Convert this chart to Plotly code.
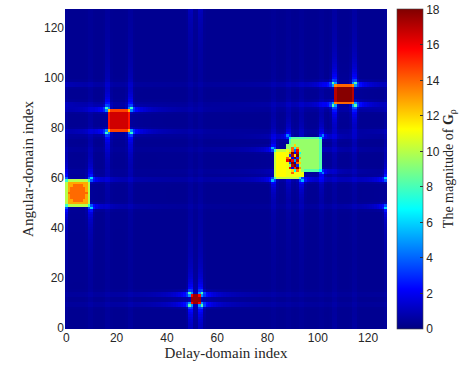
import numpy as np
import plotly.graph_objects as go

N = 128
delay_idx = list(range(N))
angle_idx = list(range(N))

# Blocks: delay range, angular range, magnitude
block_x1 = [0, 17, 107, 83, 89, 50]
block_x2 = [9, 25, 114, 93, 101, 53]
block_y1 = [49, 79, 90, 60, 63, 10]
block_y2 = [59, 87, 97, 71, 76, 13]
block_amp = [12.8, 16.6, 17.9, 11.3, 9.4, 17.6]
block_side_ratio = [0.78, 0.93, 0.95, 0.9, 0.88, 1.0]
block_top_ratio = [0.78, 0.88, 0.78, 0.9, 0.88, 1.0]
block_corner_ratio = [0.6, 0.75, 0.75, 0.7, 0.7, 0.9]

# inner disk of the first block
disk_center = [4.5, 54.0]
disk_radius = 3.6
disk_amp = 13.9

# overlap of blocks 4a/4b (x 88..94, rows y=73 down to y=61)
overlap_x0 = 88
overlap_ytop = 73
overlap_vals = [
    [9.4, 9.4, 9.4, 12, 9.4, 9.4, 9.4],
    [9.4, 9.4, 14, 7, 13, 9.4, 9.4],
    [11, 10, 14, 4, 16, 10, 9.4],
    [11, 13, 18, 2, 17, 7, 9.4],
    [11, 3, 17, 12, 19, 9, 9.4],
    [14, 12, 2, 18, 3, 13, 9.4],
    [16, 18, 16, 5, 17, 10, 9.4],
    [11, 4, 19, 1, 14, 12, 9.4],
    [11, 9, 17, 18, 3, 10, 9.4],
    [11, 16, 2, 15, 18, 13, 9.4],
    [11, 11, 12, 7, 14, 11, 9.4],
    [11, 11, 14, 11, 11, 11, 11],
    [11, 11, 11, 11, 11, 11, 11],
]

background_level = 0.3
streak_gain = 0.38
streak_len = 2.0
streak_power = 1.05
fill_gain = 0.015

cb_ticks = [0, 2, 4, 6, 8, 10, 12, 14, 16, 18]
axis_ticks = [0, 20, 40, 60, 80, 100, 120]

# ---------------- build the magnitude map ----------------
idx = np.arange(N)


def circ(a):
    a = np.abs(a) % N
    return np.minimum(a, N - a)


def dist_to_interval(v, lo, hi):
    inside = (v >= lo) & (v <= hi)
    d = np.minimum(circ(v - lo), circ(v - hi))
    return np.where(inside, 0.0, d)


G = np.full((N, N), background_level)  # rows = angular (y), cols = delay (x)
for x1, x2, y1, y2, A in zip(block_x1, block_x2, block_y1, block_y2, block_amp):
    dx = dist_to_interval(idx.astype(float), x1, x2)
    dy = dist_to_interval(idx.astype(float), y1, y2)
    ex = np.maximum(np.exp(-circ(idx - (x1 - 0.5)) ** 2 / (2 * 0.7 ** 2)),
                    np.exp(-circ(idx - (x2 + 0.5)) ** 2 / (2 * 0.7 ** 2)))
    ey = np.maximum(np.exp(-circ(idx - (y1 - 0.5)) ** 2 / (2 * 0.7 ** 2)),
                    np.exp(-circ(idx - (y2 + 0.5)) ** 2 / (2 * 0.7 ** 2)))
    inx = (dx == 0).astype(float)
    iny = (dy == 0).astype(float)
    decay_y = 1.0 / (1.0 + dy / streak_len) ** streak_power
    decay_x = 1.0 / (1.0 + dx / streak_len) ** streak_power
    vert = A * (streak_gain * ex + fill_gain * inx)[None, :] * decay_y[:, None] * (dy > 0)[:, None]
    horz = A * (streak_gain * ey + fill_gain * iny)[:, None] * decay_x[None, :] * (dx > 0)[None, :]
    corner = A * 0.1 * np.outer(ey, ex) * ((dy > 0)[:, None] | (dx > 0)[None, :])
    G += vert + horz + corner

for x1, x2, y1, y2, A, sr, tr, cr in zip(block_x1, block_x2, block_y1, block_y2, block_amp,
                                         block_side_ratio, block_top_ratio, block_corner_ratio):
    for y in range(y1, y2 + 1):
        for x in range(x1, x2 + 1):
            ex_ = x in (x1, x2)
            ey_ = y in (y1, y2)
            if ex_ and ey_:
                v = A * cr
            elif ey_:
                v = A * tr
            elif ex_:
                v = A * sr
            else:
                v = A
            G[y, x] = v

for y in range(block_y1[0], block_y2[0] + 1):
    for x in range(block_x1[0], block_x2[0] + 1):
        if (x - disk_center[0]) ** 2 + (y - disk_center[1]) ** 2 <= disk_radius ** 2:
            G[y, x] = disk_amp

for r, row in enumerate(overlap_vals):
    for c, v in enumerate(row):
        G[overlap_ytop - r, overlap_x0 + c] = v

jet = [
    [0.0, "rgb(0,0,128)"],
    [0.125, "rgb(0,0,255)"],
    [0.375, "rgb(0,255,255)"],
    [0.625, "rgb(255,255,0)"],
    [0.875, "rgb(255,0,0)"],
    [1.0, "rgb(128,0,0)"],
]

fig = go.Figure(
    go.Heatmap(
        x=delay_idx,
        y=angle_idx,
        z=G,
        zmin=0,
        zmax=18.02,
        colorscale=jet,
        zsmooth=False,
        hoverinfo="skip",
        colorbar=dict(
            x=1.031,
            xanchor="left",
            y=0.5,
            yanchor="middle",
            len=1.0,
            lenmode="fraction",
            thickness=26,
            thicknessmode="pixels",
            tickvals=cb_ticks,
            ticktext=[str(t) for t in cb_ticks],
            ticks="inside",
            ticklen=3,
            tickcolor="#333333",
            outlinewidth=0.6,
            outlinecolor="#444444",
            tickfont=dict(family="Liberation Sans", size=12, color="#262626"),
            ypad=0,
            xpad=0,
        ),
    )
)

fig.update_layout(
    width=466,
    height=370,
    margin=dict(l=65, r=79, t=9, b=41),
    paper_bgcolor="white",
    plot_bgcolor="white",
    xaxis=dict(
        range=[-0.5, 127.5],
        tickvals=axis_ticks,
        showgrid=False,
        zeroline=False,
        ticks="",
        tickfont=dict(family="Liberation Sans", size=12, color="#262626"),
        title=dict(text="Delay-domain index", standoff=2,
                   font=dict(family="Liberation Serif", size=15, color="#262626")),
    ),
    yaxis=dict(
        range=[-0.5, 127.5],
        tickvals=axis_ticks,
        showgrid=False,
        zeroline=False,
        ticks="",
        tickfont=dict(family="Liberation Sans", size=12, color="#262626"),
        title=dict(text="Angular-domain index", standoff=6,
                   font=dict(family="Liberation Serif", size=15, color="#262626")),
    ),
    annotations=[
        dict(
            text="The magnitude of <b>G</b><sub>ρ</sub>",
            xref="paper",
            yref="paper",
            x=1.193,
            y=0.5,
            xanchor="center",
            yanchor="middle",
            textangle=-90,
            showarrow=False,
            font=dict(family="Liberation Serif", size=14, color="#262626"),
        )
    ],
)

fig.write_html(
    "out.html",
    config={"displayModeBar": False},
    post_script="document.body.style.margin='0px';",
)
